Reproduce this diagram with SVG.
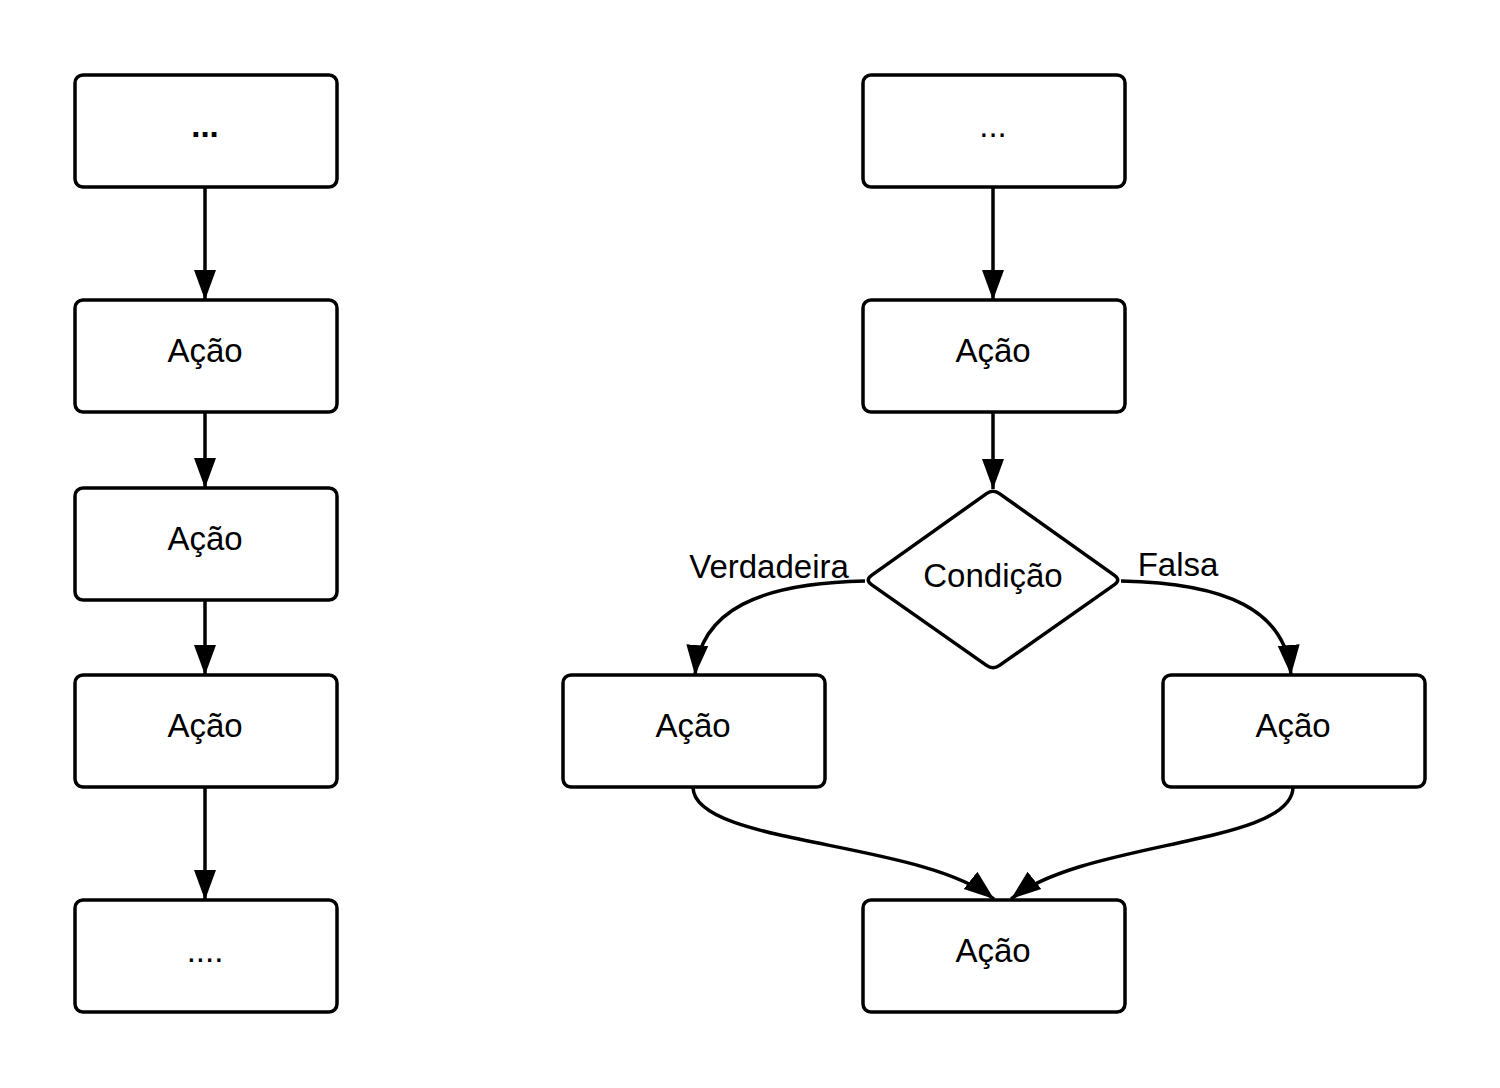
<svg xmlns="http://www.w3.org/2000/svg" width="1500" height="1088" viewBox="0 0 1500 1088">
<style>
.box{fill:#fff;stroke:#000;stroke-width:3.5}
.t{font-family:"Liberation Sans",Arial,sans-serif;font-size:33px;fill:#000;text-anchor:middle}
.c{fill:none;stroke:#000;stroke-width:3.5}
</style>
<defs>
<marker id="ah" markerUnits="userSpaceOnUse" markerWidth="31" markerHeight="24" refX="30" refY="12" orient="auto" viewBox="0 0 31 24">
<path d="M0,1 L30,12 L0,23 Z" fill="#000"/>
</marker>
</defs>
<rect width="1500" height="1088" fill="#fff"/>
<g id="connectors">
<path class="c" d="M205,187 L205,300" marker-end="url(#ah)"/>
<path class="c" d="M205,412 L205,488" marker-end="url(#ah)"/>
<path class="c" d="M205,600 L205,675" marker-end="url(#ah)"/>
<path class="c" d="M205,787 L205,900" marker-end="url(#ah)"/>
<path class="c" d="M993,187 L993,300" marker-end="url(#ah)"/>
<path class="c" d="M993,412 L993,489" marker-end="url(#ah)"/>
<path class="c" d="M865,581 C760,583 700,610 695,675" marker-end="url(#ah)"/>
<path class="c" d="M1121,581 C1226,583 1286,610 1291,675" marker-end="url(#ah)"/>
<path class="c" d="M693,787 C693,845 920,840 994,899" marker-end="url(#ah)"/>
<path class="c" d="M1293,787 C1293,845 1085,840 1011,899" marker-end="url(#ah)"/>
<text class="t" x="769" y="578">Verdadeira</text>
<text class="t" x="1178" y="576">Falsa</text>
</g>
<g id="n1"><rect class="box" x="75" y="75" width="262" height="112" rx="8"/><text class="t" x="205" y="137" font-weight="bold">...</text></g>
<g id="n2"><rect class="box" x="75" y="300" width="262" height="112" rx="8"/><text class="t" x="205" y="362">Ação</text></g>
<g id="n3"><rect class="box" x="75" y="488" width="262" height="112" rx="8"/><text class="t" x="205" y="550">Ação</text></g>
<g id="n4"><rect class="box" x="75" y="675" width="262" height="112" rx="8"/><text class="t" x="205" y="737">Ação</text></g>
<g id="n5"><rect class="box" x="75" y="900" width="262" height="112" rx="8"/><text class="t" x="205" y="962">....</text></g>
<g id="r1"><rect class="box" x="863" y="75" width="262" height="112" rx="8"/><text class="t" x="993" y="137">...</text></g>
<g id="r2"><rect class="box" x="863" y="300" width="262" height="112" rx="8"/><text class="t" x="993" y="362">Ação</text></g>
<g id="cond"><path class="box" d="M999.5,493.6 L1114.5,575.4 Q1121,580 1114.5,584.6 L999.5,665.4 Q993,670 986.5,665.4 L871.5,584.6 Q865,580 871.5,575.4 L986.5,493.6 Q993,489 999.5,493.6 Z"/><text class="t" x="993" y="587">Condição</text></g>
<g id="rl"><rect class="box" x="563" y="675" width="262" height="112" rx="8"/><text class="t" x="693" y="737">Ação</text></g>
<g id="rr"><rect class="box" x="1163" y="675" width="262" height="112" rx="8"/><text class="t" x="1293" y="737">Ação</text></g>
<g id="rb"><rect class="box" x="863" y="900" width="262" height="112" rx="8"/><text class="t" x="993" y="962">Ação</text></g>
</svg>
